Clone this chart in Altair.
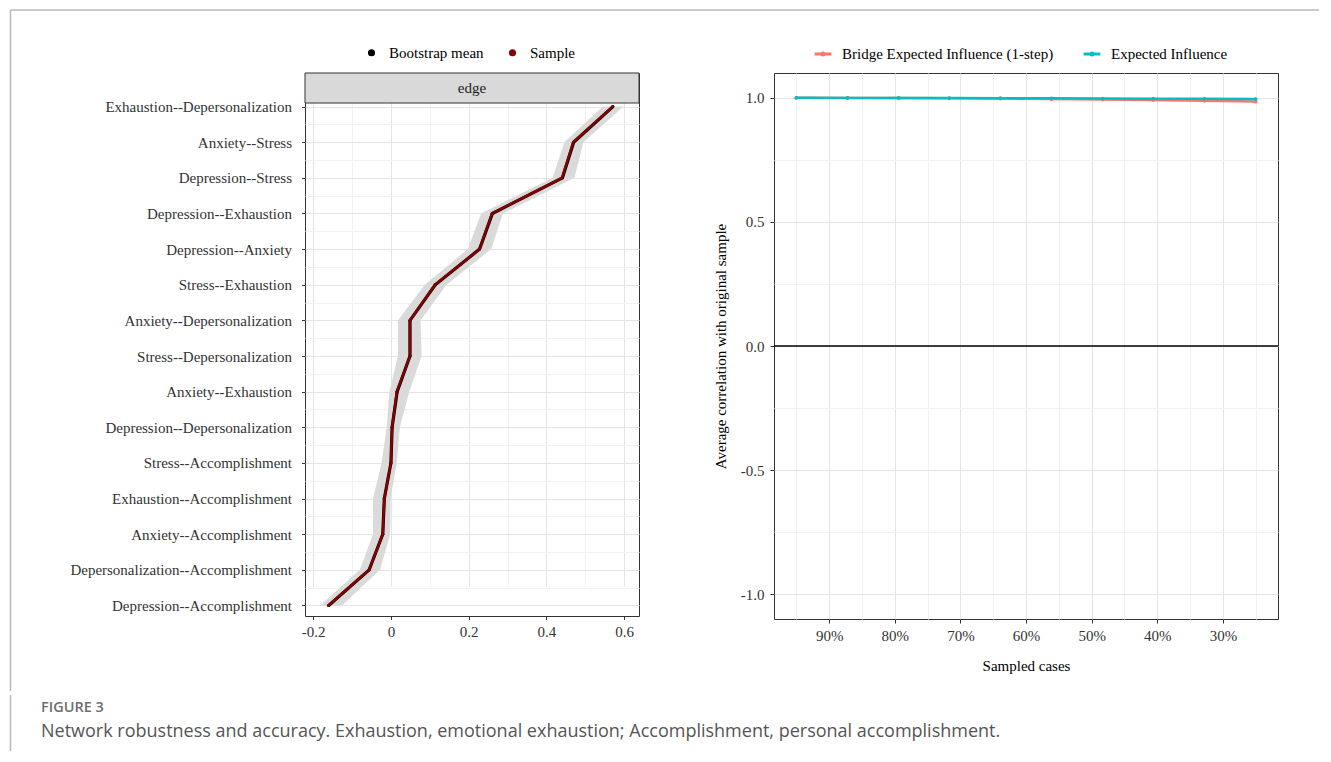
import json
import altair as alt
import pandas as pd

# ---------------- data ----------------
edges = [
    "Exhaustion--Depersonalization", "Anxiety--Stress", "Depression--Stress",
    "Depression--Exhaustion", "Depression--Anxiety", "Stress--Exhaustion",
    "Anxiety--Depersonalization", "Stress--Depersonalization", "Anxiety--Exhaustion",
    "Depression--Depersonalization", "Stress--Accomplishment", "Exhaustion--Accomplishment",
    "Anxiety--Accomplishment", "Depersonalization--Accomplishment", "Depression--Accomplishment",
]
sample_vals = [0.570, 0.469, 0.440, 0.260, 0.228, 0.113, 0.049, 0.049, 0.015, 0.003, 0.000, -0.017, -0.021, -0.056, -0.161]
boot_mean = [0.571, 0.470, 0.441, 0.261, 0.228, 0.114, 0.049, 0.049, 0.016, 0.003, 0.000, -0.017, -0.021, -0.056, -0.160]
ci_lower = [0.545, 0.446, 0.416, 0.232, 0.198, 0.087, 0.018, 0.018, -0.004, -0.011, -0.024, -0.046, -0.046, -0.080, -0.182]
ci_upper = [0.598, 0.495, 0.472, 0.288, 0.258, 0.143, 0.076, 0.079, 0.047, 0.023, 0.015, -0.001, -0.002, -0.028, -0.126]
left_series = ["Bootstrap mean", "Sample"]
strip_labels = ["edge"]

case_props = [0.95, 0.872, 0.794, 0.717, 0.639, 0.561, 0.483, 0.406, 0.328, 0.25]
bridge_cor = [1.000, 0.9995, 0.999, 0.998, 0.997, 0.995, 0.993, 0.991, 0.988, 0.985]
ei_cor = [1.000, 0.9997, 0.9993, 0.999, 0.9985, 0.998, 0.997, 0.9965, 0.996, 0.995]
measures = ["Bridge Expected Influence (1-step)", "Expected Influence"]

left_x_ticks = [-0.2, -0.1, 0.0, 0.1, 0.2, 0.3, 0.4, 0.5, 0.6]
right_x_ticks = [0.25, 0.3, 0.35, 0.4, 0.45, 0.5, 0.55, 0.6, 0.65, 0.7, 0.75, 0.8, 0.85, 0.9, 0.95]
right_y_ticks = [-1.0, -0.75, -0.5, -0.25, 0.0, 0.25, 0.5, 0.75, 1.0]

caption_head = ["FIGURE 3"]
caption_body = ["Network robustness and accuracy. Exhaustion, emotional exhaustion; Accomplishment, personal accomplishment."]

# ---------------- style ----------------
SERIF = "Liberation Serif"
SANS = "Open Sans"
FS = 15
FRAME = "#B8B8B8"
MAJOR = "#E4E4E4"
MINOR = "#F1F1F1"
W1, H1, STRIP = 334, 543, 30
W2, H2 = 504, 546

n = len(edges)
pos = [n - i for i in range(n)]
df_e = pd.DataFrame(dict(edge=edges, pos=pos, lower=ci_lower, upper=ci_upper))
df_l = pd.DataFrame({
    "pos": pos + pos,
    "value": boot_mean + sample_vals,
    "series": [left_series[0]] * n + [left_series[1]] * n,
})
df_one = pd.DataFrame({"label": strip_labels})

# ---- left panel axes ----
y_vals = [k * 0.5 for k in range(2, 2 * n + 1)]
ylab = "datum.value % 1 == 0 ? " + json.dumps(edges) + "[" + str(n) + " - datum.value] : ''"
left_y_axis = alt.Axis(
    values=y_vals, labelExpr=ylab, title=None, labelPadding=10, tickSize=3.5, labelLimit=400,
    tickColor={"condition": {"test": "datum.value % 1 == 0", "value": "#333333"}, "value": "transparent"},
    gridColor={"condition": {"test": "datum.value % 1 == 0", "value": MAJOR}, "value": MINOR},
)
major_left_x = "abs(round(datum.value*10)) % 2 == 0"
left_x_axis = alt.Axis(
    values=left_x_ticks, title=None, labelPadding=5, tickSize=3.5,
    labelExpr="(" + major_left_x + ") ? ((datum.value < -1e-9 ? '-' : '') + (abs(datum.value) < 1e-9 ? '0' : format(abs(datum.value), '.1f'))) : ''",
    tickColor={"condition": {"test": major_left_x, "value": "#333333"}, "value": "transparent"},
    gridColor={"condition": {"test": major_left_x, "value": MAJOR}, "value": MINOR},
)
lx_scale = alt.Scale(domain=[-0.221, 0.638], nice=False, zero=False)
ly_scale = alt.Scale(domain=[0.705, 15.10], range=[H1, STRIP], nice=False, zero=False)


def lx(field):
    return alt.X(field, type="quantitative", scale=lx_scale, axis=left_x_axis)


ly = alt.Y("pos:Q", scale=ly_scale, axis=left_y_axis)

left_color = alt.Scale(domain=left_series, range=["#000000", "#8B0000"])
left_legend = alt.Legend(
    orient="none", legendX=59, legendY=-28, direction="horizontal", title=None,
    symbolType="circle", symbolSize=32, labelOffset=10, columnPadding=21, labelLimit=400,
    labelFont=SERIF, labelFontSize=FS, labelColor="#000000", padding=0)

band = alt.Chart(df_e).mark_area(orient="horizontal", color="#DADADA").encode(
    x=lx("lower"), x2="upper", y=ly)
base_l = alt.Chart(df_l)
line_b = base_l.transform_filter(alt.datum.series == left_series[0]).mark_line(strokeWidth=3.2).encode(
    x=lx("value"), y=ly, order="pos:Q",
    color=alt.Color("series:N", scale=left_color, legend=left_legend))
line_s = base_l.transform_filter(alt.datum.series == left_series[1]).mark_line(strokeWidth=2.3).encode(
    x=lx("value"), y=ly, order="pos:Q",
    color=alt.Color("series:N", scale=left_color, legend=left_legend))
pts = base_l.mark_circle(size=9, opacity=1).encode(
    x=lx("value"), y=ly,
    color=alt.Color("series:N", scale=left_color, legend=left_legend))

strip_rect = alt.Chart(df_one).mark_rect(fill="#D9D9D9", stroke="#333333", strokeWidth=1).encode(
    x=alt.value(0), x2=alt.value(W1), y=alt.value(0), y2=alt.value(STRIP))
strip_text = alt.Chart(df_one).mark_text(font=SERIF, fontSize=FS, color="#1A1A1A", baseline="middle").encode(
    x=alt.value(W1 / 2), y=alt.value(STRIP / 2), text="label:N")
frame_v = alt.Chart(df_one).mark_rule(color=FRAME, strokeWidth=1.5).encode(
    x=alt.value(-294.5), y=alt.value(-63), y2=alt.value(618))
frame_t1 = alt.Chart(df_one).mark_rule(color=FRAME, strokeWidth=1.5).encode(
    x=alt.value(-294.5), x2=alt.value(394), y=alt.value(-63))

left = alt.layer(band, line_b, line_s, pts, strip_rect, strip_text, frame_v, frame_t1).properties(
    width=W1, height=H1)

# ---------------- right panel ----------------
df_r = pd.DataFrame({
    "prop": case_props + case_props,
    "value": bridge_cor + ei_cor,
    "measure": [measures[0]] * len(case_props) + [measures[1]] * len(case_props),
})
major_rx = "round(datum.value*100) % 10 == 0"
right_x_axis = alt.Axis(
    values=right_x_ticks, title="Sampled cases", labelPadding=5, tickSize=4, titlePadding=15,
    labelExpr="(" + major_rx + ") ? format(datum.value, '.0%') : ''",
    tickColor={"condition": {"test": major_rx, "value": "#333333"}, "value": "transparent"},
    gridColor={"condition": {"test": major_rx, "value": MAJOR}, "value": MINOR},
)
major_ry = "abs(round(datum.value*4)) % 2 == 0"
right_y_axis = alt.Axis(
    values=right_y_ticks, title="Average correlation with original sample", labelPadding=6, tickSize=4,
    titlePadding=12,
    labelExpr="(" + major_ry + ") ? ((datum.value < -1e-9 ? '-' : '') + format(abs(datum.value), '.1f')) : ''",
    tickColor={"condition": {"test": major_ry, "value": "#333333"}, "value": "transparent"},
    gridColor={"condition": {"test": major_ry, "value": MAJOR}, "value": MINOR},
)
ry_scale = alt.Scale(domain=[-1.1, 1.1], nice=False, zero=False)
rx = alt.X("prop:Q", scale=alt.Scale(domain=[0.216, 0.984], reverse=True, nice=False, zero=False), axis=right_x_axis)
ry = alt.Y("value:Q", scale=ry_scale, axis=right_y_axis)
right_color_scale = alt.Scale(domain=measures, range=["#F8766D", "#00BFC4"])
key_path = "M-1,0L1,0M0.12,0A0.12,0.12,0,1,1,-0.12,0A0.12,0.12,0,1,1,0.12,0"
right_legend = alt.Legend(
    orient="none", legendX=39, legendY=-29, direction="horizontal", title=None,
    symbolType=key_path, symbolSize=280, symbolStrokeWidth=3, labelOffset=9, columnPadding=23,
    labelLimit=400, labelFont=SERIF, labelFontSize=FS, labelColor="#000000", padding=0)

base_r = alt.Chart(df_r)
r_lines = base_r.mark_line(strokeWidth=2.4).encode(
    x=rx, y=ry, order="prop:Q",
    color=alt.Color("measure:N", scale=right_color_scale, sort=measures, legend=right_legend))
r_pts = base_r.mark_circle(size=14, opacity=1).encode(
    x=rx, y=ry,
    color=alt.Color("measure:N", scale=right_color_scale, sort=measures, legend=right_legend))
zero_rule = alt.Chart(pd.DataFrame({"value": [0.0]})).mark_rule(color="#000000", strokeWidth=1.4).encode(y=ry)
frame_t2 = alt.Chart(df_one).mark_rule(color=FRAME, strokeWidth=1.5).encode(
    x=alt.value(-75), x2=alt.value(545), y=alt.value(-63))

right = alt.layer(zero_rule, r_lines, r_pts, frame_t2).properties(width=W2, height=H2)

top = alt.hconcat(left, right, spacing=-4).resolve_scale(color="independent").resolve_legend(color="independent")

# ---------------- caption ----------------
df_cap = pd.DataFrame({"head": caption_head, "body": caption_body})
cap_v = alt.Chart(df_cap).mark_rule(color=FRAME, strokeWidth=1.5).encode(
    x=alt.value(-294.5), y=alt.value(0), y2=alt.value(56))
cap_h = alt.Chart(df_cap).mark_text(font=SANS, fontSize=14.5, fontWeight=600, color="#6E6E6E",
                                     align="left", baseline="middle").encode(
    x=alt.value(-264), y=alt.value(13), text="head:N")
cap_b = alt.Chart(df_cap).mark_text(font=SANS, fontSize=18, color="#555555",
                                     align="left", baseline="middle").encode(
    x=alt.value(-264), y=alt.value(36.5), text="body:N")
caption = alt.layer(cap_v, cap_h, cap_b).properties(
    width=700, height=56, view=alt.ViewBackground(stroke="transparent"))

chart = alt.vconcat(top, caption, spacing=0).properties(
    padding={"left": 1, "top": 0, "right": 0, "bottom": 0}
).configure_view(stroke="#333333", strokeWidth=1).configure_axis(
    domain=False, labelFont=SERIF, labelFontSize=FS, labelColor="#333333",
    titleFont=SERIF, titleFontSize=FS, titleFontWeight="normal", titleColor="#000000",
    gridWidth=1,
)

chart.save("out.html", embed_options={"renderer": "svg", "actions": False})
